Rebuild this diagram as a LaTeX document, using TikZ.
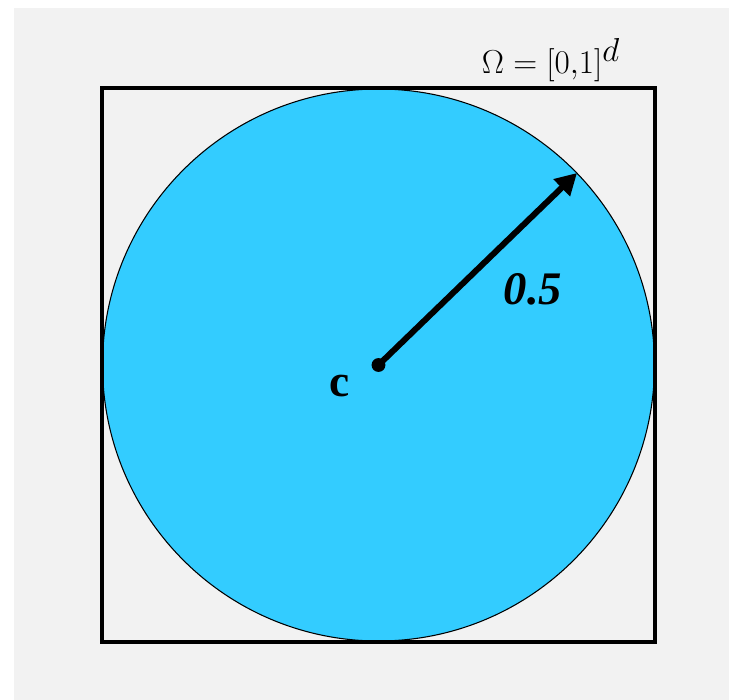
\documentclass[tikz,border=0pt]{standalone}
\usepackage{fontspec}
\setmainfont{Liberation Serif}
\usetikzlibrary{arrows.meta}
\definecolor{bggray}{HTML}{F2F2F2}
\definecolor{ballblue}{HTML}{33CCFF}
\tikzset{
  domainbox/.style={draw=black, line width=3pt},
  ball/.style={circle, draw=black, line width=0.8pt, fill=ballblue, inner sep=0pt, minimum size=414pt},
  radiusarrow/.style={line width=4.5pt, -{Triangle[length=16pt,width=17pt]}},
  lbl/.style={inner sep=0pt, font=\fontsize{34}{36}\selectfont\bfseries}
}
\begin{document}
\begin{tikzpicture}[x=0.75pt,y=-0.75pt]
\useasboundingbox (0,0) rectangle (729,700);
\fill[white] (0,0) rectangle (729,700);
\fill[bggray] (14,8) rectangle (729,700);
\node[ball] (ball) at (378.5,365) {};
\node[domainbox, minimum width=415pt, minimum height=415pt, inner sep=0pt] (box) at (378.5,365) {};
\coordinate (c) at (378.5,365);
\coordinate (tip) at (577,173);
\fill (c) circle (5.2pt);
\draw[radiusarrow] (c) -- (tip);
\node[lbl] (clabel) at (340,386) {c};
\node[lbl, font=\fontsize{35}{38}\selectfont\bfseries\itshape] (rlabel) at (533,289) {0.5};
\node[inner sep=0pt, font=\fontsize{33}{35}\selectfont] (omega) at (551,60) {$\Omega=[0{,}1]^d$};
\end{tikzpicture}
\end{document}
